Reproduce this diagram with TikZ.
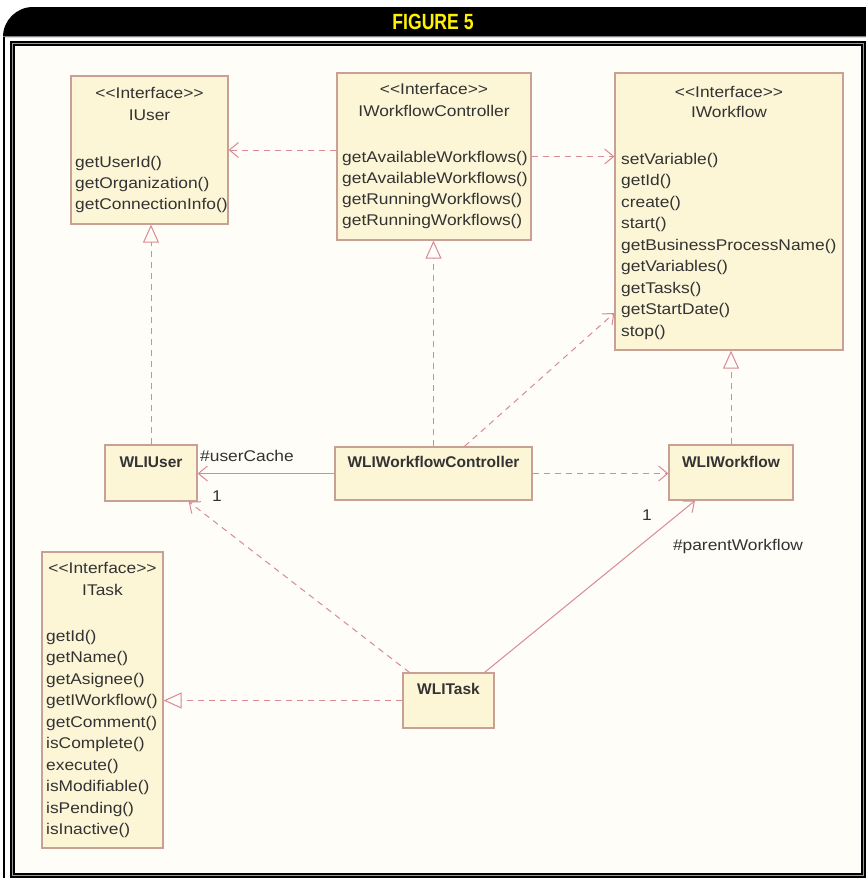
\documentclass[tikz,border=0pt]{standalone}
\usepackage{fontspec}
\setmainfont{Liberation Sans}
\newfontfamily\umlfont{Liberation Sans}[FakeStretch=1.12]
\newfontfamily\titlefont{Liberation Sans}[FakeStretch=0.8]
\usetikzlibrary{arrows.meta}

\definecolor{boxfill}{HTML}{FCF5D6}
\definecolor{boxline}{HTML}{C8A096}
\definecolor{linkcol}{HTML}{D98A92}
\definecolor{bgcol}{HTML}{FEFDF8}
\definecolor{txtcol}{HTML}{333333}
\definecolor{titlecol}{HTML}{FFF200}

\begin{document}
\begin{tikzpicture}[x=1pt,y=-1pt,
  umlbox/.style={draw=boxline, fill=boxfill, line width=1.3pt, inner sep=0pt},
  txt/.style={font=\umlfont\fontsize{15.5}{18}\selectfont, text=txtcol, inner sep=0pt, anchor=base west},
  stereo/.style={txt, anchor=base},
  cls/.style={font=\fontsize{15.5}{18}\selectfont\bfseries, text=txtcol, inner sep=0pt, anchor=base},
  lbl/.style={font=\umlfont\fontsize{15.5}{18}\selectfont, text=txtcol, inner sep=0pt},
  dep/.style={draw=linkcol, line width=1pt, dash pattern=on 6pt off 5pt,
    -{Straight Barb[length=9pt,width=15pt,line width=1pt]}},
  assoc/.style={draw=linkcol, line width=1pt,
    -{Straight Barb[length=9pt,width=15pt,line width=1pt]}},
  realize/.style={draw=linkcol, line width=1pt, dash pattern=on 6pt off 5pt,
    -{Triangle[length=18pt,width=16pt,fill=bgcol,line width=1pt]}}
]
\useasboundingbox (0,0) rectangle (866,878);

% page, content area and frame
\fill[white] (0,0) rectangle (866,878);
\fill[bgcol] (12,42) rectangle (864,876);
\fill[black] (3,37) -- (3,35) [rounded corners=30pt] -- (3,7) [sharp corners] -- (866,7) -- (866,37) -- cycle;
\draw[gray, line width=1pt] (3,36.5) -- (866,36.5);
\draw[black, line width=2pt] (4,37) -- (4,878);
\draw[black, line width=5pt] (12.5,43.5) rectangle (863.5,875.5);
\draw[gray!80, line width=0.8pt] (12.5,43.5) rectangle (863.5,875.5);
\node[font=\titlefont\bfseries\fontsize{22}{24}\selectfont, text=titlecol, inner sep=0pt] (title) at (433,22) {FIGURE 5};

% interface IUser
\node[umlbox, minimum width=157pt, minimum height=148pt] (iuser) at (149.5,150) {};
\node[stereo] (iuser-st) at (149.5,98) {{<}{<}Interface{>}{>}};
\node[stereo] (iuser-nm) at (149.5,120) {IUser};
\foreach \m [count=\i] in {getUserId(),getOrganization(),getConnectionInfo()}
  \node[txt] (iuser-m\i) at (75,{167+21*(\i-1)}) {\m};

% interface IWorkflowController
\node[umlbox, minimum width=194pt, minimum height=167pt] (iwc) at (434,156.5) {};
\node[stereo] (iwc-st) at (434,94) {{<}{<}Interface{>}{>}};
\node[stereo] (iwc-nm) at (434,116) {IWorkflowController};
\foreach \m [count=\i] in {getAvailableWorkflows(),getAvailableWorkflows(),getRunningWorkflows(),getRunningWorkflows()}
  \node[txt] (iwc-m\i) at (342,{162+21.3*(\i-1)}) {\m};

% interface IWorkflow
\node[umlbox, minimum width=228pt, minimum height=277pt] (iwf) at (729,211.5) {};
\node[stereo] (iwf-st) at (729,97) {{<}{<}Interface{>}{>}};
\node[stereo] (iwf-nm) at (729,117) {IWorkflow};
\foreach \m [count=\i] in {setVariable(),getId(),create(),start(),getBusinessProcessName(),getVariables(),getTasks(),getStartDate(),stop()}
  \node[txt] (iwf-m\i) at (621,{164+21.5*(\i-1)}) {\m};

% interface ITask
\node[umlbox, minimum width=121pt, minimum height=296pt] (itask) at (102.5,700) {};
\node[stereo] (itask-st) at (102.5,573) {{<}{<}Interface{>}{>}};
\node[stereo] (itask-nm) at (102.5,595) {ITask};
\foreach \m [count=\i] in {getId(),getName(),getAsignee(),getIWorkflow(),getComment(),isComplete(),execute(),isModifiable(),isPending(),isInactive()}
  \node[txt] (itask-m\i) at (46,{641+21.5*(\i-1)}) {\m};

% implementation classes
\node[umlbox, minimum width=92pt, minimum height=56pt] (wliuser) at (151,473) {};
\node[cls] (wliuser-nm) at (151,467) {WLIUser};
\node[umlbox, minimum width=197pt, minimum height=53pt] (wliwc) at (433.5,473.5) {};
\node[cls] (wliwc-nm) at (433.5,467) {WLIWorkflowController};
\node[umlbox, minimum width=124pt, minimum height=55pt] (wliwf) at (731,472.5) {};
\node[cls] (wliwf-nm) at (731,467) {WLIWorkflow};
\node[umlbox, minimum width=91pt, minimum height=55pt] (wlitask) at (448.5,700.5) {};
\node[cls] (wlitask-nm) at (448.5,694) {WLITask};

% dependencies between interfaces
\draw[dep] (iwc.west |- iuser.east) -- (iuser.east);
\draw[dep] (iwc.east) -- (iwf.west |- iwc.east);

% realizations
\draw[realize] (wliuser.north) -- (wliuser.north |- iuser.south);
\draw[realize] (wliwc.north) -- (wliwc.north |- iwc.south);
\draw[realize] (wliwf.north) -- (wliwf.north |- iwf.south);
\draw[realize] (wlitask.west) -- (itask.east |- wlitask.west);

% dependencies between classes
\draw[dep] ([xshift=31pt]wliwc.north) -- ([yshift=-101.5pt]iwf.west);
\draw[dep] (wliwc.east) -- (wliwf.west |- wliwc.east);
\draw[dep] ([xshift=7pt]wlitask.north west) -- ([xshift=-9pt]wliuser.south east);

% associations
\draw[assoc] (wliwc.west) -- (wliuser.east |- wliwc.west);
\draw[assoc] ([xshift=-10pt]wlitask.north east) -- ([xshift=-36pt]wliwf.south);

% association end labels
\node[lbl, anchor=base west] (cache) at (200,461) {\#userCache};
\node[lbl] (cache-m) at (217,496) {1};
\node[lbl] (parent-m) at (647,515) {1};
\node[lbl] (parent) at (738,546) {\#parentWorkflow};
\end{tikzpicture}
\end{document}
